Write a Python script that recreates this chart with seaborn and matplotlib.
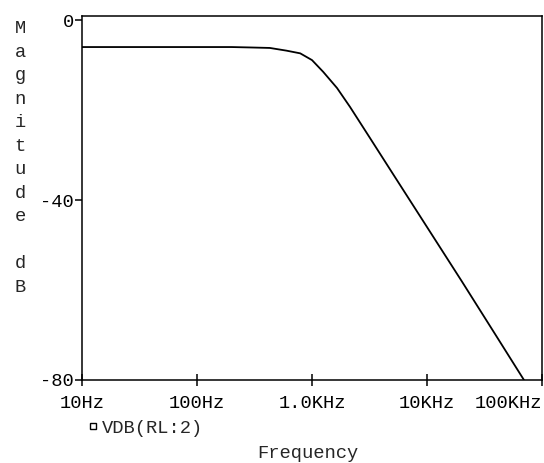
import matplotlib
matplotlib.use("Agg")
import matplotlib.pyplot as plt
from matplotlib.lines import Line2D
import seaborn as sns
import pandas as pd

# Values
freq_hz = [10, 30, 100, 200, 300, 430, 600, 790, 1000, 1250, 1650, 2140,
           3190, 5000, 10000, 20000, 40000, 69700]
mag_db = [-6.0, -6.0, -6.0, -6.0, -6.1, -6.2, -6.8, -7.4, -8.9, -11.5, -15.1,
          -19.3, -26.2, -34.0, -46.0, -58.0, -70.2, -80.0]
x_ticks = [10, 100, 1000, 10000, 100000]
x_tick_labels = ["10Hz", "100Hz", "1.0KHz", "10KHz", "100KHz"]
y_ticks = [0, -40, -80]
y_tick_labels = ["0", "-40", "-80"]
series_name = "VDB(RL:2)"
x_title = "Frequency"
y_title = "Magnitude dB"

sns.set_theme(style="white")
plt.rcParams["font.family"] = ["Liberation Mono", "DejaVu Sans"]
plt.rcParams["axes.unicode_minus"] = False

FS = 13.5

df = pd.DataFrame({"f": freq_hz, "db": mag_db})

fig = plt.figure(figsize=(5.44, 4.63), dpi=100)
ax = fig.add_axes([82 / 544, 1 - 380 / 463, 460 / 544, 364 / 463])
sns.lineplot(data=df, x="f", y="db", ax=ax, color="black", linewidth=1.3,
             sort=False, legend=False)
ax.set_xscale("log")
ax.set_xlim(10, 100000)
ax.set_ylim(-80, 0.9)
ax.set_xticks(x_ticks)
ax.set_xticklabels(x_tick_labels)
ax.minorticks_off()
ax.set_yticks(y_ticks)
ax.set_yticklabels(y_tick_labels)
ax.set_xlabel("")
ax.set_ylabel("")
for s in ax.spines.values():
    s.set_visible(True)
    s.set_color("black")
    s.set_linewidth(1.1)
ax.tick_params(axis="x", bottom=True, direction="inout", length=9, width=1.1,
               labelsize=FS, pad=6, colors="black")
ax.tick_params(axis="y", left=True, direction="out", length=5, width=1.1,
               labelsize=FS, pad=1, colors="black")
labels = ax.get_xticklabels()
labels[-1].set_horizontalalignment("right")
ax.grid(False)

fig.text(308 / 544, 1 - 453 / 463, x_title, ha="center", va="center",
         fontsize=FS)
vert = "\n".join(list("Magnitude") + [""] + list("dB"))
fig.text(20 / 544, 1 - 158 / 463, vert, ha="center", va="center",
         fontsize=FS, linespacing=1.5)

handle = Line2D([], [], marker="s", markerfacecolor="white",
                markeredgecolor="black", markersize=4.5, markeredgewidth=1,
                linestyle="none")
fig.legend([handle], [series_name], loc="center left",
           bbox_to_anchor=(74 / 544, 1 - 428 / 463), frameon=False,
           fontsize=FS, handletextpad=0.0, borderpad=0, handlelength=1)

fig.savefig("out.png", dpi=100)
